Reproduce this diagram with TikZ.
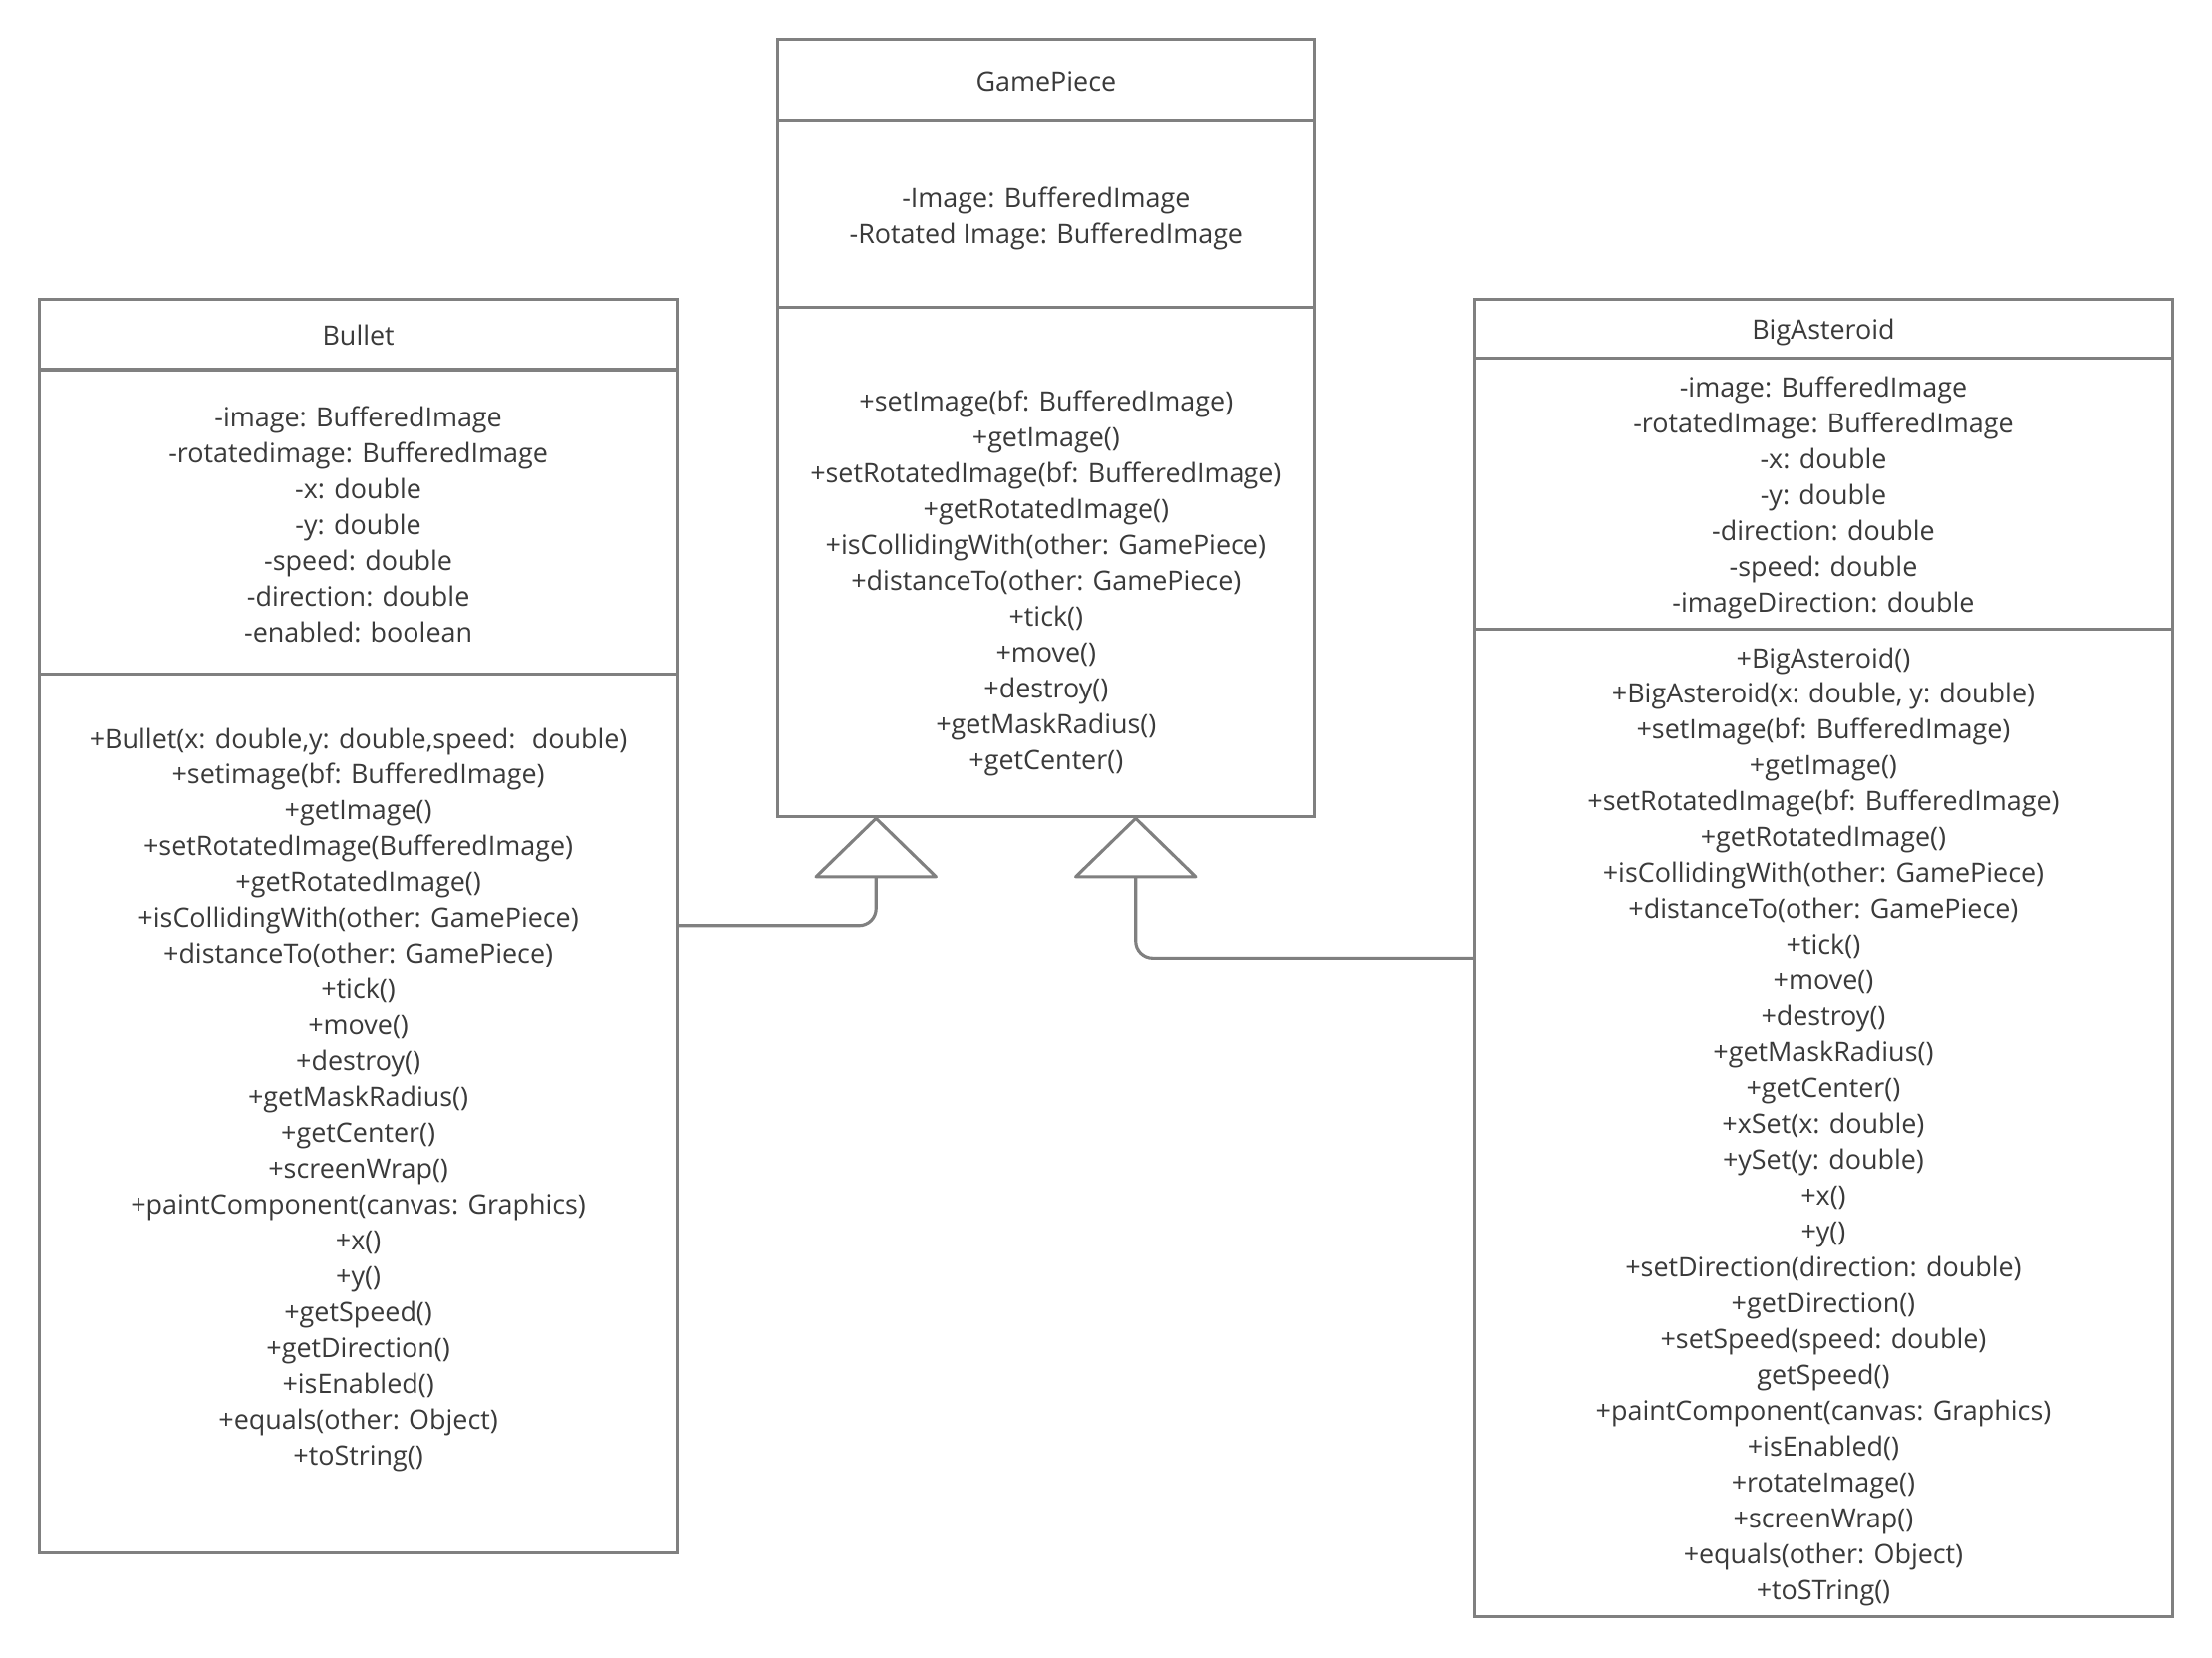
\documentclass[tikz,border=0pt]{standalone}
\usepackage{fontspec}
\setmainfont{Open Sans}
\usetikzlibrary{arrows.meta}
\definecolor{umlline}{HTML}{808080}
\definecolor{umltext}{HTML}{3A3A3A}
\begin{document}
\begin{tikzpicture}[x=1pt,y=-1pt,
  classbox/.style={draw=umlline, line width=2.2pt, inner sep=0pt, outer sep=0pt, anchor=north west},
  members/.style={text=umltext, align=center, inner sep=0pt,
    font=\fontsize{19}{25.4}\selectfont},
  divider/.style={draw=umlline, line width=2.2pt},
  inherit/.style={draw=umlline, line width=2.2pt, rounded corners=12pt,
    -{Triangle[open, round, length=44pt, width=90pt]}}
]
\useasboundingbox (0,0) rectangle (1568,1175);
\fill[white] (0,0) rectangle (1568,1175);

% ---------- GamePiece ----------
\node[classbox, minimum width=381pt, minimum height=551pt] (gp) at (551,28) {};
\draw[divider] (gp.west |- 0,85) -- (gp.east |- 0,85);
\draw[divider] (gp.west |- 0,218) -- (gp.east |- 0,218);
\node[members] (gp-name) at (741.5,57.5) {GamePiece};
\node[members] (gp-attr) at (741.5,155) {-Image: BufferedImage\\-Rotated Image: BufferedImage};
\node[members] (gp-ops) at (741.5,413.5) {+setImage(bf: BufferedImage)\\+getImage()\\+setRotatedImage(bf: BufferedImage)\\+getRotatedImage()\\+isCollidingWith(other: GamePiece)\\+distanceTo(other: GamePiece)\\+tick()\\+move()\\+destroy()\\+getMaskRadius()\\+getCenter()};

% ---------- Bullet ----------
\node[classbox, minimum width=452pt, minimum height=889pt] (bullet) at (28,212) {};
\draw[divider] (bullet.west |- 0,262) -- (bullet.east |- 0,262);
\draw[divider] (bullet.west |- 0,478) -- (bullet.east |- 0,478);
\node[members] (bullet-name) at (254,237.5) {Bullet};
\node[members] (bullet-attr) at (254,372) {-image: BufferedImage\\-rotatedimage: BufferedImage\\-x: double\\-y: double\\-speed: double\\-direction: double\\-enabled: boolean};
\node[members] (bullet-ops) at (254,779.5) {+Bullet(x: double,y: double,speed: \ double)\\+setimage(bf: BufferedImage)\\+getImage()\\+setRotatedImage(BufferedImage)\\+getRotatedImage()\\+isCollidingWith(other: GamePiece)\\+distanceTo(other: GamePiece)\\+tick()\\+move()\\+destroy()\\+getMaskRadius()\\+getCenter()\\+screenWrap()\\+paintComponent(canvas: Graphics)\\+x()\\+y()\\+getSpeed()\\+getDirection()\\+isEnabled()\\+equals(other: Object)\\+toString()};

% ---------- BigAsteroid ----------
\node[classbox, minimum width=495pt, minimum height=934pt] (big) at (1045,212) {};
\draw[divider] (big.west |- 0,254) -- (big.east |- 0,254);
\draw[divider] (big.west |- 0,446) -- (big.east |- 0,446);
\node[members] (big-name) at (1292.5,235.5) {BigAsteroid};
\node[members] (big-attr) at (1292.5,352.5) {-image: BufferedImage\\-rotatedImage: BufferedImage\\-x: double\\-y: double\\-direction: double\\-speed: double\\-imageDirection: double};
\node[members] (big-ops) at (1292.5,798.5) {+BigAsteroid()\\+BigAsteroid(x: double, y: double)\\+setImage(bf: BufferedImage)\\+getImage()\\+setRotatedImage(bf: BufferedImage)\\+getRotatedImage()\\+isCollidingWith(other: GamePiece)\\+distanceTo(other: GamePiece)\\+tick()\\+move()\\+destroy()\\+getMaskRadius()\\+getCenter()\\+xSet(x: double)\\+ySet(y: double)\\+x()\\+y()\\+setDirection(direction: double)\\+getDirection()\\+setSpeed(speed: double)\\getSpeed()\\+paintComponent(canvas: Graphics)\\+isEnabled()\\+rotateImage()\\+screenWrap()\\+equals(other: Object)\\+toSTring()};

% ---------- generalisation arrows ----------
\coordinate (gp-hook-l) at ([xshift=-120.5pt]gp.south);
\coordinate (gp-hook-r) at ([xshift=63.5pt]gp.south);
\draw[inherit] (bullet.east |- 0,656) -| (gp-hook-l);
\draw[inherit] (big.west |- 0,679) -| (gp-hook-r);
\end{tikzpicture}
\end{document}
